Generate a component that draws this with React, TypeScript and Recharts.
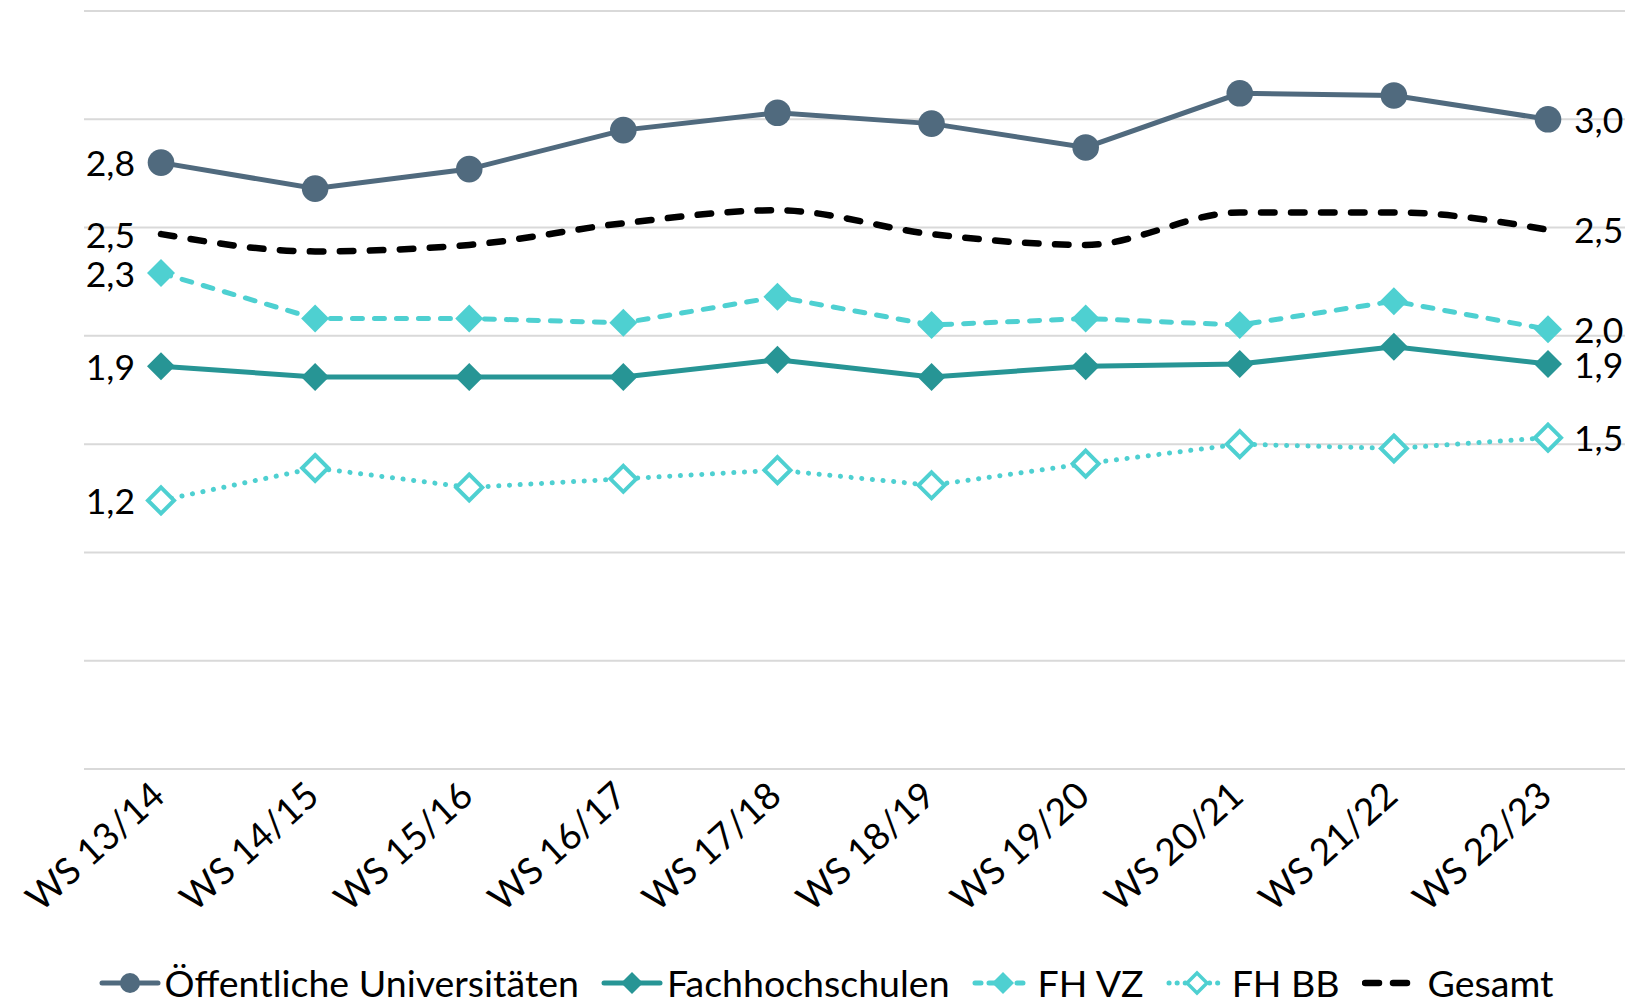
import React from 'react';
import { LineChart, Line, XAxis, YAxis, CartesianGrid, Legend, LabelList } from 'recharts';

const categories = ['WS 13/14', 'WS 14/15', 'WS 15/16', 'WS 16/17', 'WS 17/18', 'WS 18/19', 'WS 19/20', 'WS 20/21', 'WS 21/22', 'WS 22/23'];
const uni = [2.8, 2.68, 2.77, 2.95, 3.03, 2.98, 2.87, 3.12, 3.11, 3.0];
const fh = [1.86, 1.81, 1.81, 1.81, 1.89, 1.81, 1.86, 1.87, 1.95, 1.87];
const fhVz = [2.29, 2.08, 2.08, 2.06, 2.18, 2.05, 2.08, 2.05, 2.16, 2.03];
const fhBb = [1.24, 1.39, 1.3, 1.34, 1.38, 1.31, 1.41, 1.5, 1.48, 1.53];
const gesamt = [2.47, 2.39, 2.42, 2.52, 2.58, 2.47, 2.42, 2.57, 2.57, 2.49];
const yTicks = [0, 0.5, 1, 1.5, 2, 2.5, 3, 3.5];
const boundaryTicks = [0, 1, 2, 3, 4, 5, 6, 7, 8, 9, 10];

const data = categories.map((cat, i) => ({
  cat,
  uni: uni[i],
  fh: fh[i],
  fhVz: fhVz[i],
  fhBb: fhBb[i],
  gesamt: gesamt[i],
}));

const FONT = 'Lato, "Open Sans", sans-serif';
const C_UNI = '#506A7E';
const C_FH = '#279595';
const C_CYAN = '#4ED0D1';
const GRID = '#D9D9D9';

const fmt = (v: number) => v.toFixed(1).replace('.', ',');

const EndLabel = (props: any) => {
  const { x, y, value, index } = props;
  if (index !== 0 && index !== categories.length - 1) return null;
  const left = index === 0;
  return (
    <text
      x={left ? x - 26 : x + 26}
      y={y}
      textAnchor={left ? 'end' : 'start'}
      dominantBaseline="central"
      fontSize={35.5}
      fontFamily={FONT}
      fill="#000"
    >
      {fmt(value)}
    </text>
  );
};

const Diamond = ({ cx, cy, r, fill, stroke, strokeWidth }: any) => (
  <polygon
    points={`${cx},${cy - r} ${cx + r},${cy} ${cx},${cy + r} ${cx - r},${cy}`}
    fill={fill}
    stroke={stroke}
    strokeWidth={strokeWidth}
  />
);

const AngledTick = ({ x, y, payload }: any) => (
  <text
    transform={`translate(${x + 6},${y + 30}) rotate(-42)`}
    textAnchor="end"
    fontSize={37}
    fontFamily={FONT}
    fill="#000"
  >
    {payload.value}
  </text>
);

const legendItems = [
  { name: 'Öffentliche Universitäten', kind: 'circle', color: C_UNI, dash: undefined },
  { name: 'Fachhochschulen', kind: 'diamond', color: C_FH, dash: undefined },
  { name: 'FH VZ', kind: 'diamond', color: C_CYAN, dash: '6 8' },
  { name: 'FH BB', kind: 'hollow', color: C_CYAN, dash: '0.1 8' },
  { name: 'Gesamt', kind: 'none', color: '#000', dash: '14 14' },
];

const LegendContent = () => (
  <div style={{ display: 'flex', justifyContent: 'center', alignItems: 'center', gap: 22, fontFamily: FONT, fontSize: 37.5, lineHeight: '38px' }}>
    {legendItems.map((it) => (
      <div key={it.name} style={{ display: 'flex', alignItems: 'center', gap: 4 }}>
        <svg width={62} height={38}>
          <line
            x1={3}
            y1={19}
            x2={59}
            y2={19}
            stroke={it.color}
            strokeWidth={it.kind === 'none' ? 6.5 : 5}
            strokeDasharray={it.dash}
            strokeLinecap="round"
          />
          {it.kind === 'circle' && <circle cx={31} cy={19} r={10} fill={it.color} />}
          {it.kind === 'diamond' && <Diamond cx={31} cy={19} r={11} fill={it.color} />}
          {it.kind === 'hollow' && <Diamond cx={31} cy={19} r={10} fill="#fff" stroke={it.color} strokeWidth={3.5} />}
        </svg>
        <span>{it.name}</span>
      </div>
    ))}
  </div>
);

export default function App() {
  return (
    <div style={{ position: 'fixed', left: 0, top: 0, width: 1652, height: 1000, overflow: 'hidden', background: '#fff' }}>
      <LineChart width={1652} height={1000} data={data} margin={{ top: 11, right: 27, left: 84, bottom: 81 }}>
        <CartesianGrid vertical={false} stroke={GRID} strokeWidth={2} />
        <XAxis
          xAxisId="bounds"
          type="number"
          domain={[0, categories.length]}
          ticks={boundaryTicks}
          allowDataOverflow
          height={0}
          axisLine={false}
          tick={false}
          tickLine={{ stroke: GRID, strokeWidth: 2 }}
          tickSize={11}
        />
        <XAxis
          dataKey="cat"
          height={150}
          interval={0}
          padding={{ left: 77, right: 77 }}
          axisLine={{ stroke: GRID, strokeWidth: 2 }}
          tickLine={false}
          tickSize={0}
          tickMargin={0}
          tick={<AngledTick />}
        />
        <YAxis hide domain={[0, 3.5]} ticks={yTicks} />
        <Line
          dataKey="gesamt"
          type="monotone"
          stroke="#000"
          strokeWidth={6.5}
          strokeDasharray="13.5 16.5"
          strokeLinecap="round"
          dot={false}
          isAnimationActive={false}
        >
          <LabelList dataKey="gesamt" content={<EndLabel />} />
        </Line>
        <Line
          dataKey="uni"
          type="linear"
          stroke={C_UNI}
          strokeWidth={5}
          dot={{ r: 13.3, fill: C_UNI, stroke: 'none' }}
          isAnimationActive={false}
        >
          <LabelList dataKey="uni" content={<EndLabel />} />
        </Line>
        <Line
          dataKey="fhVz"
          type="linear"
          stroke={C_CYAN}
          strokeWidth={5}
          strokeDasharray="10 12"
          strokeLinecap="round"
          dot={(p: any) => <Diamond key={p.index} cx={p.cx} cy={p.cy} r={14} fill={C_CYAN} />}
          isAnimationActive={false}
        >
          <LabelList dataKey="fhVz" content={<EndLabel />} />
        </Line>
        <Line
          dataKey="fh"
          type="linear"
          stroke={C_FH}
          strokeWidth={5}
          dot={(p: any) => <Diamond key={p.index} cx={p.cx} cy={p.cy} r={14} fill={C_FH} />}
          isAnimationActive={false}
        >
          <LabelList dataKey="fh" content={<EndLabel />} />
        </Line>
        <Line
          dataKey="fhBb"
          type="linear"
          stroke={C_CYAN}
          strokeWidth={5}
          strokeDasharray="0.1 10.6"
          strokeLinecap="round"
          dot={(p: any) => <Diamond key={p.index} cx={p.cx} cy={p.cy} r={13} fill="#fff" stroke={C_CYAN} strokeWidth={4} />}
          isAnimationActive={false}
        >
          <LabelList dataKey="fhBb" content={<EndLabel />} />
        </Line>
        <Legend
          layout="horizontal"
          verticalAlign="middle"
          align="center"
          content={<LegendContent />}
          wrapperStyle={{ top: 964, left: 0, width: 1652 }}
        />
      </LineChart>
    </div>
  );
}
